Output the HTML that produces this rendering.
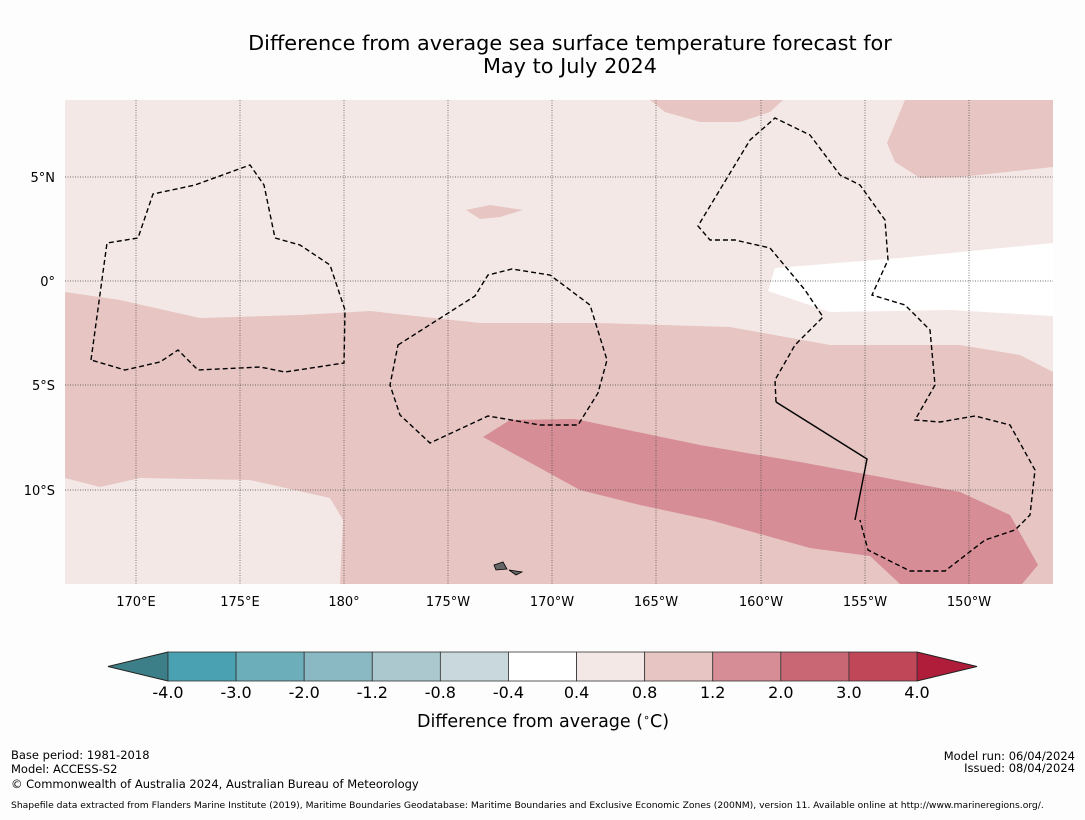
<!DOCTYPE html>
<html><head><meta charset="utf-8"><style>
body{margin:0;background:#fdfdfd;font-family:"DejaVu Sans","Liberation Sans",sans-serif;}
svg text{font-family:"DejaVu Sans","Liberation Sans",sans-serif;fill:#000}
</style></head><body>
<svg id="c" width="1085" height="816" xmlns="http://www.w3.org/2000/svg">
<text x="570" y="50" font-size="20.8" text-anchor="middle">Difference from average sea surface temperature forecast for</text>
<text x="570" y="73" font-size="20.8" text-anchor="middle">May to July 2024</text>
<g>
<rect x="65" y="100" width="988" height="484" fill="#f4e8e6"/>
<path fill="#e6c5c2" d="M65,292 L120,300 L200,318 L300,315 L370,311 L480,323 L600,323 L730,327 L830,345 L960,345 L1020,355 L1053,372 L1053,584 L340,584 L343,520 L330,498 L250,480 L140,478 L100,487 L65,478 Z"/>
<path fill="#e6c5c2" d="M905,100 L1053,100 L1053,167 L960,177 L920,178 L895,162 L887,143 Z"/>
<path fill="#e6c5c2" d="M650,100 L783,100 L770,112 L740,122 L700,122 L665,112 Z"/>
<path fill="#e6c5c2" d="M466,210 L490,205 L523,210 L500,217 L480,219 Z"/>
<path fill="#ffffff" d="M775,268 L900,258 L1053,243 L1053,316 L950,310 L830,312 L768,291 Z"/>
<path fill="#d68d95" d="M483,437 L510,420 L575,419 L700,445 L800,462 L870,475 L960,492 L1010,515 L1038,565 L1022,584 L900,584 L870,556 L810,548 L710,520 L640,505 L580,490 L540,468 Z"/>
<g stroke="#444" stroke-width="0.7" stroke-dasharray="1,1.5" fill="none">
<path d="M136,100V584M240,100V584M344,100V584M448,100V584M552,100V584M656,100V584M761,100V584M865,100V584M969,100V584"/>
<path d="M65,177H1053M65,281H1053M65,385H1053M65,490H1053"/>
</g>
<g stroke="#000" stroke-width="1.4" fill="none" stroke-dasharray="5,3">
<path d="M91,360 L107,243 L138,238 L153,194 L195,185 L250,165 L264,185 L275,238 L300,245 L330,265 L345,310 L344,363 L285,372 L260,367 L198,370 L178,350 L160,362 L125,370 L91,360"/>
<path d="M398,345 L475,296 L488,275 L512,269 L550,275 L590,305 L607,360 L598,393 L578,425 L540,425 L488,416 L430,443 L400,415 L390,385 Z"/>
<path d="M776,402 L775,380 L795,345 L823,317 L805,290 L770,248 L735,240 L710,240 L698,226 L750,140 L775,118 L810,135 L840,175 L860,185 L885,220 L888,260 L872,295 L905,305 L930,330 L935,385 L915,420 L940,422 L975,416 L1010,425 L1035,470 L1030,515 L1015,530 L985,540 L945,571 L910,571 L868,550 L860,520"/>
</g>
<path d="M776,402 L867,459 L855,520" stroke="#000" stroke-width="1.4" fill="none"/>
<path d="M494,565 L503,562 L507,569 L496,570 Z M509,570 L522,572 L516,575 Z" fill="#666" stroke="#000" stroke-width="0.8"/>
</g>
<g font-size="13" text-anchor="middle">
<text x="136" y="606">170°E</text><text x="240" y="606">175°E</text><text x="344" y="606">180°</text><text x="448" y="606">175°W</text><text x="552" y="606">170°W</text><text x="656" y="606">165°W</text><text x="761" y="606">160°W</text><text x="865" y="606">155°W</text><text x="969" y="606">150°W</text>
</g>
<g font-size="13" text-anchor="end">
<text x="55" y="182">5°N</text><text x="55" y="286">0°</text><text x="55" y="390">5°S</text><text x="55" y="495">10°S</text>
</g>
<g id="cb"></g>
<text x="543" y="727" font-size="17.5" text-anchor="middle">Difference from average (<tspan font-size="11" dy="-6">∘</tspan><tspan dy="6">C)</tspan></text>
<g font-size="11.5">
<text x="11" y="759">Base period: 1981-2018</text>
<text x="11" y="773">Model: ACCESS-S2</text>
<text x="11" y="788">© Commonwealth of Australia 2024, Australian Bureau of Meteorology</text>
<text x="1075" y="760" text-anchor="end">Model run: 06/04/2024</text>
<text x="1075" y="772" text-anchor="end">Issued: 08/04/2024</text>
<text x="11" y="808" font-size="9.2">Shapefile data extracted from Flanders Marine Institute (2019), Maritime Boundaries Geodatabase: Maritime Boundaries and Exclusive Economic Zones (200NM), version 11. Available online at http://www.marineregions.org/.</text>
</g>
</svg>
<script>
const levels=["-4.0","-3.0","-2.0","-1.2","-0.8","-0.4","0.4","0.8","1.2","2.0","3.0","4.0"];
const colors=["#4aa1b1","#6cafbb","#8ab9c4","#aac8cd","#c8d8dc","#ffffff","#f4e8e6","#e6c5c2","#d68d95","#c96774","#c04757"];
const NS="http://www.w3.org/2000/svg",g=document.getElementById('cb');
const x0=168,x1=917,y0=652,h=29,w=(x1-x0)/colors.length;
function mk(t,a){const e=document.createElementNS(NS,t);for(const k in a)e.setAttribute(k,a[k]);g.appendChild(e);return e;}
let t=mk('polygon',{points:`108,${y0+h/2} ${x0},${y0} ${x0},${y0+h}`,fill:'#3d7f88',stroke:'#222','stroke-width':1});

t=mk('polygon',{points:`977,${y0+h/2} ${x1},${y0} ${x1},${y0+h}`,fill:'#b01d3b',stroke:'#222','stroke-width':1});

colors.forEach((c,i)=>{const r=mk('rect',{x:x0+i*w,y:y0,width:w,height:h,fill:c,stroke:'#333','stroke-width':0.8});

});
levels.forEach((l,i)=>{const e=mk('text',{x:x0+i*w,y:698,'font-size':16,'text-anchor':'middle'});e.textContent=l;

});
</script>
</body></html>
